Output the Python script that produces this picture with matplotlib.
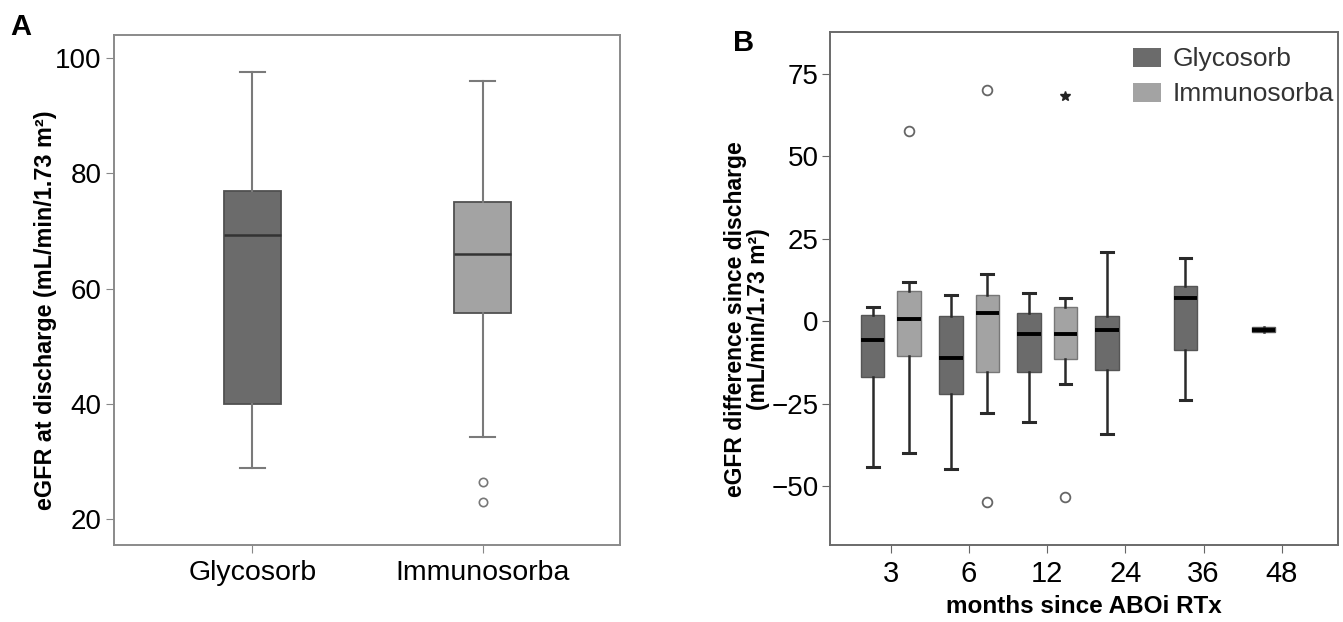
import matplotlib
matplotlib.use('Agg')
import numpy as np
from matplotlib import pyplot as plt
from matplotlib.patches import Patch

plt.rcParams['font.family'] = ['Liberation Sans', 'DejaVu Sans']

# panel A: eGFR at discharge
a_groups = ['Glycosorb', 'Immunosorba']
a_whislo = [28.8, 34.3]
a_q1 = [40.0, 55.8]
a_med = [69.3, 66.0]
a_q3 = [77.0, 75.0]
a_whishi = [97.5, 96.0]
a_fliers = [[], [26.5, 23.0]]

# panel B: eGFR difference since discharge
b_months = ['3', '6', '12', '24', '36', '48']
# Glycosorb, one per month
g_whislo = [-44.2, -44.8, -30.5, -34.3, -23.8, -2.6]
g_q1 = [-16.8, -22.0, -15.3, -14.9, -8.8, -3.4]
g_med = [-5.6, -11.2, -3.8, -2.6, 7.0, -2.6]
g_q3 = [1.8, 1.6, 2.4, 1.6, 10.6, -1.8]
g_whishi = [4.2, 7.9, 8.4, 20.9, 19.2, -2.6]
# Immunosorba, months 3, 6, 12 only
i_whislo = [-40.0, -28.0, -19.0]
i_q1 = [-10.6, -15.4, -11.4]
i_med = [0.6, 2.4, -4.0]
i_q3 = [9.0, 7.8, 4.4]
i_whishi = [12.0, 14.3, 7.0]
i_fliers = [[57.7], [70.2, -54.9], [-53.4]]
i_extremes = [[], [], [68.4]]

c_glyco = '#6b6b6b'
c_immuno = '#a3a3a3'


def make_stats(lo, q1, med, q3, hi, fl):
    return [dict(whislo=lo[k], q1=q1[k], med=med[k], q3=q3[k], whishi=hi[k],
                 fliers=fl[k]) for k in range(len(lo))]


fig = plt.figure(figsize=(13.43, 6.22), dpi=100)

# ---- A ----
ax1 = fig.add_axes([0.0849, 0.1238, 0.3768, 0.8199])
st = make_stats(a_whislo, a_q1, a_med, a_q3, a_whishi, a_fliers)
bp = ax1.bxp(st, positions=range(len(a_groups)), widths=0.252, patch_artist=True,
             boxprops=dict(edgecolor='#505050', linewidth=1.3),
             medianprops=dict(color='#333333', linewidth=1.8),
             whiskerprops=dict(color='#7a7a7a', linewidth=1.5),
             capprops=dict(color='#7a7a7a', linewidth=1.5), capwidths=0.11,
             flierprops=dict(marker='o', markersize=6, markerfacecolor='none',
                             markeredgecolor='#777777', markeredgewidth=1.2))
for patch, c in zip(bp['boxes'], [c_glyco, c_immuno]):
    patch.set_facecolor(c)
ax1.set_xlim(-0.602, 1.598)
ax1.set_ylim(15.5, 104)
ax1.set_yticks([20, 40, 60, 80, 100])
ax1.set_xticks(range(len(a_groups)))
ax1.set_xticklabels(a_groups)
ax1.tick_params(axis='y', labelsize=20, length=6, color='#888888', pad=3)
ax1.tick_params(axis='x', labelsize=20.5, length=6, color='#888888', pad=5)
ax1.set_ylabel('eGFR at discharge (mL/min/1.73 m²)', fontsize=16.8,
               fontweight='bold')
ax1.yaxis.set_label_coords(-0.1126, 0.461)
for s in ax1.spines.values():
    s.set_color('#8a8a8a')
    s.set_linewidth(1.4)
fig.text(0.0075, 0.944, 'A', fontsize=21, fontweight='bold')

# ---- B ----
ax2 = fig.add_axes([0.618, 0.1238, 0.3783, 0.8248])
xpos = np.arange(len(b_months))
sg = make_stats(g_whislo, g_q1, g_med, g_q3, g_whishi, [[]] * len(b_months))
si = make_stats(i_whislo, i_q1, i_med, i_q3, i_whishi, i_fliers)
common = dict(widths=0.30, patch_artist=True,
              medianprops=dict(color='black', linewidth=2.8),
              whiskerprops=dict(color='#2a2a2a', linewidth=1.8),
              capprops=dict(color='#2a2a2a', linewidth=2.2), capwidths=0.15,
              flierprops=dict(marker='o', markersize=7, markerfacecolor='none',
                              markeredgecolor='#666666', markeredgewidth=1.3))
bg = ax2.bxp(sg, positions=xpos - 0.233,
             boxprops=dict(edgecolor='#555555', linewidth=1.0), **common)
bi = ax2.bxp(si, positions=xpos[:len(i_med)] + 0.233,
             boxprops=dict(edgecolor='#777777', linewidth=1.0), **common)
for patch in bg['boxes']:
    patch.set_facecolor(c_glyco)
for patch in bi['boxes']:
    patch.set_facecolor(c_immuno)
for k, ex in enumerate(i_extremes):
    if ex:
        ax2.plot([xpos[k] + 0.233] * len(ex), ex, marker='*', linestyle='none',
                 color='#222222', markersize=7)
ax2.set_xlim(-0.78, 5.72)
ax2.set_ylim(-67.9, 87.7)
ax2.set_yticks([-50, -25, 0, 25, 50, 75])
ax2.set_xticks(xpos)
ax2.set_xticklabels(b_months)
ax2.tick_params(axis='y', labelsize=20, length=6, color='#666666', pad=2)
ax2.tick_params(axis='x', labelsize=21, length=6, color='#666666', pad=5)
ax2.set_ylabel('eGFR difference since discharge\n(mL/min/1.73 m²)', fontsize=16.5,
               fontweight='bold', linespacing=1.0)
ax2.yaxis.set_label_coords(-0.118, 0.44)
ax2.set_xlabel('months since ABOi RTx', fontsize=17.5, fontweight='bold', labelpad=5)
for s in ax2.spines.values():
    s.set_color('#6a6a6a')
    s.set_linewidth(1.4)
handles = [Patch(facecolor=c_glyco, edgecolor='none'),
           Patch(facecolor=c_immuno, edgecolor='none')]
ax2.legend(handles, ['Glycosorb', 'Immunosorba'], loc='upper left',
           bbox_to_anchor=(0.5965, 0.97), frameon=False, fontsize=19,
           handlelength=1.06, handleheight=0.72, handletextpad=0.45,
           labelspacing=0.42, borderaxespad=0, borderpad=0,
           labelcolor='#333333')
fig.text(0.546, 0.918, 'B', fontsize=21, fontweight='bold')

plt.savefig('out.png', dpi=100)
